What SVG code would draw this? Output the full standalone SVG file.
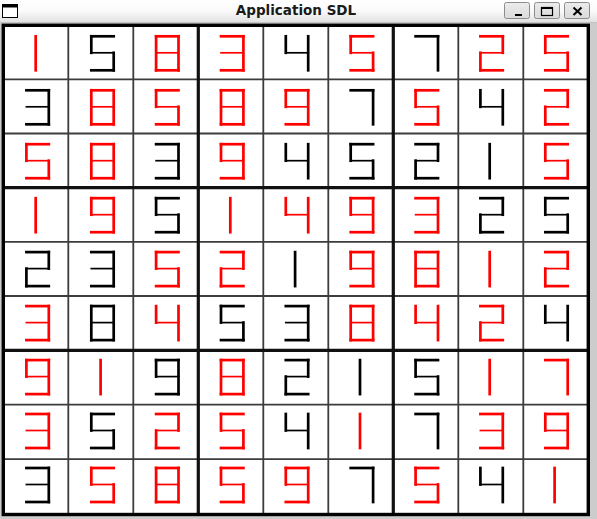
<svg xmlns="http://www.w3.org/2000/svg" width="597" height="519" viewBox="0 0 597 519">
<style>
.seg{stroke-width:2.7;stroke-linecap:square;fill:none}
.mid{stroke-width:1.7;stroke-linecap:square;fill:none}
.r{stroke:#ff0000}
.k{stroke:#000000}
.thin{stroke:#3c3c3c;stroke-width:1.8}
.thick{stroke:#111;stroke-width:3.2}
.btn{fill:url(#bg);stroke:#8c8c8c;stroke-width:1}
.title{font-family:"DejaVu Sans",sans-serif;font-weight:bold;font-size:13.5px;fill:#1a1a1a}
</style>
<defs>
<linearGradient id="tb" x1="0" y1="0" x2="0" y2="1"><stop offset="0" stop-color="#ffffff"/><stop offset="0.5" stop-color="#fafafa"/><stop offset="1" stop-color="#e2e2e2"/></linearGradient>
<linearGradient id="bg" x1="0" y1="0" x2="0" y2="1"><stop offset="0" stop-color="#ececec"/><stop offset="1" stop-color="#dadada"/></linearGradient>
<g id="d1"><line class="seg" x1="9.3" y1="0" x2="9.3" y2="34"/></g>
<g id="d2"><line class="seg" x1="0" y1="0" x2="22.4" y2="0"/><line class="seg" x1="22.4" y1="0" x2="22.4" y2="16.5"/><line class="mid" x1="0" y1="16.5" x2="22.4" y2="16.5"/><line class="seg" x1="0" y1="16.5" x2="0" y2="34"/><line class="seg" x1="0" y1="34" x2="22.4" y2="34"/></g>
<g id="d3"><line class="seg" x1="0" y1="0" x2="22.4" y2="0"/><line class="seg" x1="22.4" y1="0" x2="22.4" y2="34"/><line class="mid" x1="0" y1="16.5" x2="22.4" y2="16.5"/><line class="seg" x1="0" y1="34" x2="22.4" y2="34"/></g>
<g id="d4"><line class="seg" x1="0" y1="0" x2="0" y2="16.5"/><line class="mid" x1="0" y1="16.5" x2="22.4" y2="16.5"/><line class="seg" x1="22.4" y1="0" x2="22.4" y2="34"/></g>
<g id="d5"><line class="seg" x1="0" y1="0" x2="22.4" y2="0"/><line class="seg" x1="0" y1="0" x2="0" y2="16.5"/><line class="mid" x1="0" y1="16.5" x2="22.4" y2="16.5"/><line class="seg" x1="22.4" y1="16.5" x2="22.4" y2="34"/><line class="seg" x1="0" y1="34" x2="22.4" y2="34"/></g>
<g id="d7"><line class="seg" x1="0" y1="0" x2="22.4" y2="0"/><line class="seg" x1="22.4" y1="0" x2="22.4" y2="34"/></g>
<g id="d8"><line class="seg" x1="0" y1="0" x2="22.4" y2="0"/><line class="seg" x1="0" y1="0" x2="0" y2="34"/><line class="seg" x1="22.4" y1="0" x2="22.4" y2="34"/><line class="mid" x1="0" y1="16.5" x2="22.4" y2="16.5"/><line class="seg" x1="0" y1="34" x2="22.4" y2="34"/></g>
<g id="d9"><line class="seg" x1="0" y1="0" x2="22.4" y2="0"/><line class="seg" x1="0" y1="0" x2="0" y2="16.5"/><line class="seg" x1="22.4" y1="0" x2="22.4" y2="34"/><line class="mid" x1="0" y1="16.5" x2="22.4" y2="16.5"/><line class="seg" x1="0" y1="34" x2="22.4" y2="34"/></g>
</defs>
<rect x="0" y="0" width="597" height="519" fill="#cccccc"/>
<g id="titlebar">
<rect x="0" y="0" width="597" height="22" fill="url(#tb)"/>
<line x1="0" y1="22.5" x2="597" y2="22.5" stroke="#c4c4c4" stroke-width="1"/>
<rect x="2.5" y="4.5" width="15" height="13" fill="#fff" stroke="#000" stroke-width="1"/>
<rect x="2.5" y="4.5" width="15" height="3" fill="#000"/>
<text class="title" x="296" y="15" text-anchor="middle">Application SDL</text>
<rect class="btn" x="504.5" y="2.5" width="25" height="16" rx="2"/>
<rect class="btn" x="534.5" y="2.5" width="25" height="16" rx="2"/>
<rect class="btn" x="564.5" y="2.5" width="25" height="16" rx="2"/>
<rect x="515" y="14" width="7" height="2" fill="#000"/>
<rect x="541.5" y="7.5" width="11" height="8" fill="none" stroke="#000" stroke-width="1.2"/>
<rect x="541.5" y="7" width="11" height="2" fill="#000"/>
<line x1="573.5" y1="7.5" x2="581.5" y2="15" stroke="#000" stroke-width="2"/>
<line x1="581.5" y1="7.5" x2="573.5" y2="15" stroke="#000" stroke-width="2"/>
</g>
<rect x="3.3" y="25.3" width="585" height="488.7" fill="#ffffff"/>
<g id="grid">
<line class="thin" x1="68.3" y1="25" x2="68.3" y2="514"/>
<line class="thin" x1="133.3" y1="25" x2="133.3" y2="514"/>
<line class="thin" x1="263.3" y1="25" x2="263.3" y2="514"/>
<line class="thin" x1="328.3" y1="25" x2="328.3" y2="514"/>
<line class="thin" x1="458.3" y1="25" x2="458.3" y2="514"/>
<line class="thin" x1="523.3" y1="25" x2="523.3" y2="514"/>
<line class="thin" x1="3" y1="79.4" x2="588" y2="79.4"/>
<line class="thin" x1="3" y1="133.5" x2="588" y2="133.5"/>
<line class="thin" x1="3" y1="241.8" x2="588" y2="241.8"/>
<line class="thin" x1="3" y1="296" x2="588" y2="296"/>
<line class="thin" x1="3" y1="404.7" x2="588" y2="404.7"/>
<line class="thin" x1="3" y1="459.1" x2="588" y2="459.1"/>
<line class="thick" x1="198.3" y1="25" x2="198.3" y2="514"/>
<line class="thick" x1="393.3" y1="25" x2="393.3" y2="514"/>
<line class="thick" x1="3" y1="187.6" x2="588" y2="187.6"/>
<line class="thick" x1="3" y1="350.3" x2="588" y2="350.3"/>
<rect x="3.3" y="25.3" width="585" height="489.2" fill="none" stroke="#000" stroke-width="3.4"/>
</g>
<g id="r1">
<g id="cell-r1c1"><use href="#d1" class="r" x="26.4" y="36.3"/></g>
<g id="cell-r1c2"><use href="#d5" class="k" x="91.3" y="36.3"/></g>
<g id="cell-r1c3"><use href="#d8" class="r" x="156.1" y="36.3"/></g>
<g id="cell-r1c4"><use href="#d3" class="r" x="221" y="36.3"/></g>
<g id="cell-r1c5"><use href="#d4" class="k" x="285.8" y="36.3"/></g>
<g id="cell-r1c6"><use href="#d5" class="r" x="350.7" y="36.3"/></g>
<g id="cell-r1c7"><use href="#d7" class="k" x="415.6" y="36.3"/></g>
<g id="cell-r1c8"><use href="#d2" class="r" x="480.4" y="36.3"/></g>
<g id="cell-r1c9"><use href="#d5" class="r" x="545.3" y="36.3"/></g>
</g>
<g id="r2">
<g id="cell-r2c1"><use href="#d3" class="k" x="26.4" y="90.3"/></g>
<g id="cell-r2c2"><use href="#d8" class="r" x="91.3" y="90.3"/></g>
<g id="cell-r2c3"><use href="#d5" class="r" x="156.1" y="90.3"/></g>
<g id="cell-r2c4"><use href="#d8" class="r" x="221" y="90.3"/></g>
<g id="cell-r2c5"><use href="#d9" class="r" x="285.8" y="90.3"/></g>
<g id="cell-r2c6"><use href="#d7" class="k" x="350.7" y="90.3"/></g>
<g id="cell-r2c7"><use href="#d5" class="r" x="415.6" y="90.3"/></g>
<g id="cell-r2c8"><use href="#d4" class="k" x="480.4" y="90.3"/></g>
<g id="cell-r2c9"><use href="#d2" class="r" x="545.3" y="90.3"/></g>
</g>
<g id="r3">
<g id="cell-r3c1"><use href="#d5" class="r" x="26.4" y="144.2"/></g>
<g id="cell-r3c2"><use href="#d8" class="r" x="91.3" y="144.2"/></g>
<g id="cell-r3c3"><use href="#d3" class="k" x="156.1" y="144.2"/></g>
<g id="cell-r3c4"><use href="#d9" class="r" x="221" y="144.2"/></g>
<g id="cell-r3c5"><use href="#d4" class="k" x="285.8" y="144.2"/></g>
<g id="cell-r3c6"><use href="#d5" class="k" x="350.7" y="144.2"/></g>
<g id="cell-r3c7"><use href="#d2" class="k" x="415.6" y="144.2"/></g>
<g id="cell-r3c8"><use href="#d1" class="k" x="480.4" y="144.2"/></g>
<g id="cell-r3c9"><use href="#d5" class="r" x="545.3" y="144.2"/></g>
</g>
<g id="r4">
<g id="cell-r4c1"><use href="#d1" class="r" x="26.4" y="198.2"/></g>
<g id="cell-r4c2"><use href="#d9" class="r" x="91.3" y="198.2"/></g>
<g id="cell-r4c3"><use href="#d5" class="k" x="156.1" y="198.2"/></g>
<g id="cell-r4c4"><use href="#d1" class="r" x="221" y="198.2"/></g>
<g id="cell-r4c5"><use href="#d4" class="r" x="285.8" y="198.2"/></g>
<g id="cell-r4c6"><use href="#d9" class="r" x="350.7" y="198.2"/></g>
<g id="cell-r4c7"><use href="#d3" class="r" x="415.6" y="198.2"/></g>
<g id="cell-r4c8"><use href="#d2" class="k" x="480.4" y="198.2"/></g>
<g id="cell-r4c9"><use href="#d5" class="k" x="545.3" y="198.2"/></g>
</g>
<g id="r5">
<g id="cell-r5c1"><use href="#d2" class="k" x="26.4" y="252.1"/></g>
<g id="cell-r5c2"><use href="#d3" class="k" x="91.3" y="252.1"/></g>
<g id="cell-r5c3"><use href="#d5" class="r" x="156.1" y="252.1"/></g>
<g id="cell-r5c4"><use href="#d2" class="r" x="221" y="252.1"/></g>
<g id="cell-r5c5"><use href="#d1" class="k" x="285.8" y="252.1"/></g>
<g id="cell-r5c6"><use href="#d9" class="r" x="350.7" y="252.1"/></g>
<g id="cell-r5c7"><use href="#d8" class="r" x="415.6" y="252.1"/></g>
<g id="cell-r5c8"><use href="#d1" class="r" x="480.4" y="252.1"/></g>
<g id="cell-r5c9"><use href="#d2" class="r" x="545.3" y="252.1"/></g>
</g>
<g id="r6">
<g id="cell-r6c1"><use href="#d3" class="r" x="26.4" y="306.1"/></g>
<g id="cell-r6c2"><use href="#d8" class="k" x="91.3" y="306.1"/></g>
<g id="cell-r6c3"><use href="#d4" class="r" x="156.1" y="306.1"/></g>
<g id="cell-r6c4"><use href="#d5" class="k" x="221" y="306.1"/></g>
<g id="cell-r6c5"><use href="#d3" class="k" x="285.8" y="306.1"/></g>
<g id="cell-r6c6"><use href="#d8" class="r" x="350.7" y="306.1"/></g>
<g id="cell-r6c7"><use href="#d4" class="r" x="415.6" y="306.1"/></g>
<g id="cell-r6c8"><use href="#d2" class="r" x="480.4" y="306.1"/></g>
<g id="cell-r6c9"><use href="#d4" class="k" x="545.3" y="306.1"/></g>
</g>
<g id="r7">
<g id="cell-r7c1"><use href="#d9" class="r" x="26.4" y="360.1"/></g>
<g id="cell-r7c2"><use href="#d1" class="r" x="91.3" y="360.1"/></g>
<g id="cell-r7c3"><use href="#d9" class="k" x="156.1" y="360.1"/></g>
<g id="cell-r7c4"><use href="#d8" class="r" x="221" y="360.1"/></g>
<g id="cell-r7c5"><use href="#d2" class="k" x="285.8" y="360.1"/></g>
<g id="cell-r7c6"><use href="#d1" class="k" x="350.7" y="360.1"/></g>
<g id="cell-r7c7"><use href="#d5" class="k" x="415.6" y="360.1"/></g>
<g id="cell-r7c8"><use href="#d1" class="r" x="480.4" y="360.1"/></g>
<g id="cell-r7c9"><use href="#d7" class="r" x="545.3" y="360.1"/></g>
</g>
<g id="r8">
<g id="cell-r8c1"><use href="#d3" class="r" x="26.4" y="414"/></g>
<g id="cell-r8c2"><use href="#d5" class="k" x="91.3" y="414"/></g>
<g id="cell-r8c3"><use href="#d2" class="r" x="156.1" y="414"/></g>
<g id="cell-r8c4"><use href="#d5" class="r" x="221" y="414"/></g>
<g id="cell-r8c5"><use href="#d4" class="k" x="285.8" y="414"/></g>
<g id="cell-r8c6"><use href="#d1" class="r" x="350.7" y="414"/></g>
<g id="cell-r8c7"><use href="#d7" class="k" x="415.6" y="414"/></g>
<g id="cell-r8c8"><use href="#d3" class="r" x="480.4" y="414"/></g>
<g id="cell-r8c9"><use href="#d9" class="r" x="545.3" y="414"/></g>
</g>
<g id="r9">
<g id="cell-r9c1"><use href="#d3" class="k" x="26.4" y="468"/></g>
<g id="cell-r9c2"><use href="#d5" class="r" x="91.3" y="468"/></g>
<g id="cell-r9c3"><use href="#d8" class="r" x="156.1" y="468"/></g>
<g id="cell-r9c4"><use href="#d5" class="r" x="221" y="468"/></g>
<g id="cell-r9c5"><use href="#d9" class="r" x="285.8" y="468"/></g>
<g id="cell-r9c6"><use href="#d7" class="k" x="350.7" y="468"/></g>
<g id="cell-r9c7"><use href="#d5" class="r" x="415.6" y="468"/></g>
<g id="cell-r9c8"><use href="#d4" class="k" x="480.4" y="468"/></g>
<g id="cell-r9c9"><use href="#d1" class="r" x="545.3" y="468"/></g>
</g>
</svg>
